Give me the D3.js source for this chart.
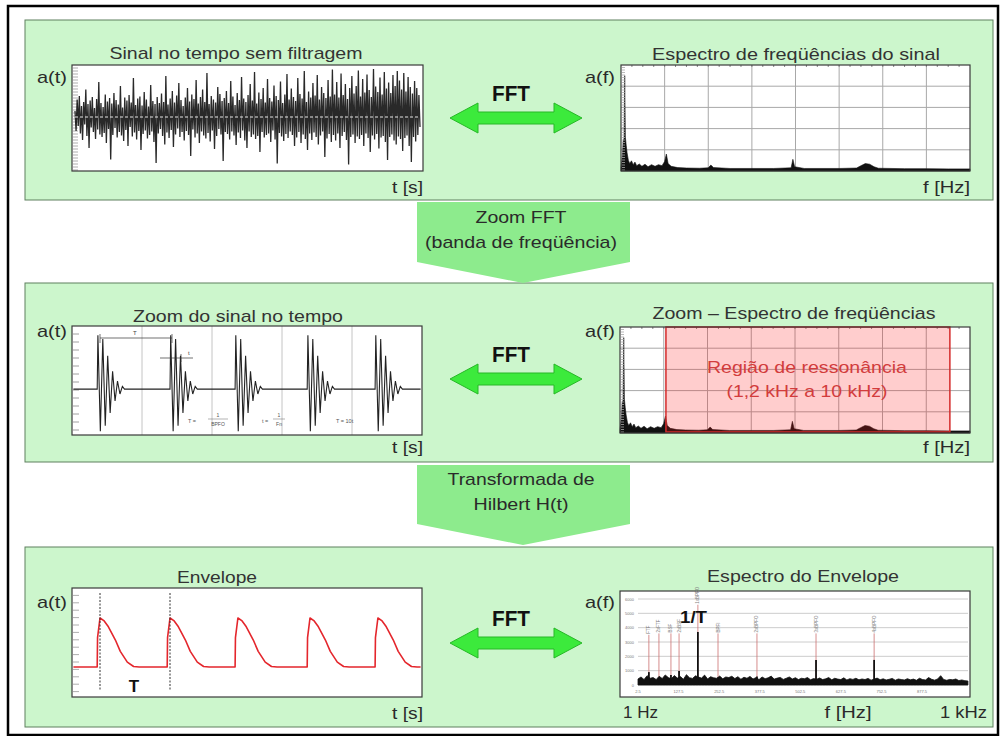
<!DOCTYPE html>
<html>
<head>
<meta charset="utf-8">
<script src="https://cdn.jsdelivr.net/npm/d3@7"></script>
<style>
  body { margin: 0; background: #fff; }
  svg { display: block; }
  text { font-family: "Liberation Sans", Arial, sans-serif; }
</style>
</head>
<body>
<svg id="chart"></svg>
<script>
// setup
const width  = 1003;
const height = 736;

////////////////////////////
// -------- DATA
////////////////////////////
const leftTitles  = ["Sinal no tempo sem filtragem", "Zoom do sinal no tempo", "Envelope"];
const rightTitles = ["Espectro de freqüências do sinal", "Zoom – Espectro de freqüências", "Espectro do Envelope"];
const stepLabels  = [["Zoom FFT", "(banda de freqüência)"], ["Transformada de", "Hilbert H(t)"]];
const bandLabels  = ["Região de ressonância", "(1,2 kHz a 10 kHz)"];

// raw vibration signal (normalised amplitude, one value per sample)
const rawSignal = [
  0.12,-0.28,0.35,-0.18,0.42,-0.33,0.22,-0.46,0.30,-0.15,0.55,-0.38,0.26,-0.62,0.33,-0.21,0.40,-0.30,0.18,-0.44,
  0.36,-0.25,0.70,-0.35,0.28,-0.40,0.20,-0.32,0.45,-0.52,0.31,-0.24,0.38,-0.85,0.27,-0.36,0.48,-0.22,0.34,-0.41,
  0.25,-0.30,0.62,-0.37,0.19,-0.48,0.39,-0.26,0.33,-0.58,0.44,-0.20,0.29,-0.39,0.78,-0.31,0.24,-0.45,0.37,-0.28,
  0.41,-0.66,0.23,-0.34,0.50,-0.27,0.35,-0.43,0.21,-0.36,0.64,-0.29,0.32,-0.50,0.26,-0.92,0.40,-0.33,0.28,-0.24,
  0.47,-0.38,0.30,-0.55,0.82,-0.31,0.25,-0.42,0.37,-0.26,0.52,-0.60,0.29,-0.35,0.43,-0.23,0.68,-0.40,0.34,-0.30,
  0.22,-0.47,0.39,-0.28,0.58,-0.36,0.31,-0.78,0.45,-0.25,0.36,-0.41,0.74,-0.33,0.27,-0.52,0.40,-0.29,0.55,-0.37,
  0.30,-0.43,0.88,-0.32,0.26,-0.49,0.42,-0.27,0.35,-0.64,0.29,-0.38,0.60,-0.24,0.46,-0.35,0.32,-0.88,0.38,-0.30,
  0.52,-0.34,0.28,-0.45,0.72,-0.29,0.41,-0.37,0.24,-0.56,0.48,-0.31,0.34,-0.42,0.80,-0.27,0.37,-0.47,0.30,-0.62,
  0.44,-0.29,0.66,-0.40,0.33,-0.35,0.90,-0.44,0.27,-0.38,0.49,-0.70,0.36,-0.30,0.58,-0.41,0.29,-0.36,0.76,-0.33,
  0.38,-0.50,0.31,-0.27,0.63,-0.45,0.42,-0.93,0.34,-0.32,0.71,-0.39,0.28,-0.48,0.45,-0.34,0.86,-0.42,0.35,-0.29,
  0.57,-0.36,0.40,-0.58,0.32,-0.41,0.78,-0.30,0.46,-0.52,0.37,-0.35,0.92,-0.44,0.30,-0.66,0.51,-0.33,0.39,-0.46,
  0.68,-0.31,0.43,-0.40,0.84,-0.55,0.35,-0.37,0.60,-0.29,0.48,-0.80,0.38,-0.43,0.74,-0.34,0.41,-0.50,0.95,-0.36,
  0.45,-0.47,0.70,-0.33,0.39,-0.62,0.87,-0.38,0.44,-0.30,0.66,-0.46,0.36,-0.95,0.58,-0.40,0.82,-0.35,0.47,-0.52,
  0.62,-0.39,0.93,-0.44,0.41,-0.36,0.76,-0.58,0.49,-0.33,0.85,-0.42,0.54,-0.70,0.40,-0.37,0.96,-0.45,0.61,-0.34,
  0.50,-0.63,0.79,-0.41,0.45,-0.38,0.90,-0.50,0.57,-0.86,0.69,-0.40,0.48,-0.35,0.84,-0.47,0.62,-0.55,0.92,-0.39,
  0.73,-0.44,0.55,-0.68,0.88,-0.42,0.51,-0.37,0.80,-0.58,0.60,-0.90,0.47,-0.40,0.72,-0.49,0.58,-0.36,0.44,-0.20
];

// frequency spectrum: [f in grid columns 0..8, a in grid rows 0..5]
const spectrum = [
  [0.00,0.15],[0.03,0.7],[0.05,1.4],[0.07,1.55],[0.085,4.5],[0.10,1.6],[0.12,1.2],[0.14,0.85],[0.17,0.5],
  [0.20,0.35],[0.24,0.48],[0.28,0.3],[0.32,0.42],[0.36,0.25],[0.42,0.33],[0.48,0.22],[0.55,0.32],[0.62,0.2],
  [0.70,0.3],[0.78,0.22],[0.86,0.3],[0.94,0.25],[1.00,0.45],[1.04,0.8],[1.08,0.35],[1.15,0.22],[1.30,0.16],
  [1.50,0.14],[1.80,0.13],[2.00,0.15],[2.06,0.28],[2.12,0.16],[2.50,0.12],[3.00,0.12],[3.50,0.12],[3.90,0.15],
  [3.94,0.55],[3.98,0.2],[4.20,0.12],[5.00,0.12],[5.40,0.14],[5.50,0.25],[5.60,0.35],[5.70,0.32],[5.80,0.2],
  [5.90,0.13],[6.50,0.11],[7.00,0.11],[7.50,0.1],[8.00,0.1]
];
const resonanceBand = [1.05, 7.54]; // grid columns

// impacts of the defect (time in grid columns 0..5)
const burstStarts = [0.36, 1.40, 2.33, 3.36, 4.33];
const burstShape  = [[0,0],[0.01,1.0],[0.045,-0.78],[0.08,0.93],[0.115,-0.68],[0.15,0.62],[0.185,-0.44],
                     [0.22,0.33],[0.255,-0.22],[0.29,0.15],[0.325,-0.09],[0.36,0.05],[0.39,0]];

// envelope
const envStarts = [0.36, 1.36, 2.33, 3.36, 4.33];
const envShape  = [[0,0],[0.005,0.6],[0.04,1.0],[0.1,0.94],[0.16,0.82],[0.26,0.55],[0.33,0.32],[0.43,0.1],[0.52,0.01],[0.6,0]];

// envelope spectrum (Hz / amplitude)
const envNoise = [
  420,560,380,650,470,520,380,610,450,700, 520,430,660,480,590,400,720,510,460,640,
  550,480,690,420,580,500,470,620,430,560, 520,610,450,580,400,540,470,600,420,520,
  380,560,440,500,620,410,480,530,390,470, 560,420,510,380,470,440,520,360,450,400,
  490,380,430,520,360,470,410,380,500,350, 440,390,470,360,420,380,460,340,410,480,
  370,430,350,400,460,330,420,380,350,440, 360,410,330,470,380,350,520,400,340,420,
  650,380,330,390,360,420,310,350,300,280
];
const envPeaks     = [[36,900],[67,350],[104,700],[129,980],[187,3700],[249,500],[369,600],[551,1750],[730,1750]];
const markerFreqs  = [36, 67, 104, 129, 187, 249, 369, 551, 730];
const markerTops   = [3500, 3600, 3600, 3600, 5600, 3600, 3600, 3600, 3600];
const markerLabels = ["FTF", "2xFTF", "BSF", "2xBSF", "1xBPFO", "BPFI", "2xBPFO", "3xBPFO", "4xBPFO"];
const envXTicks    = [2.5, 127.5, 252.5, 377.5, 502.5, 627.5, 752.5, 877.5];
const envYTicks    = [0, 1000, 2000, 3000, 4000, 5000, 6000];

////////////////////////////
// -------- BASE
////////////////////////////
const svg = d3.select("#chart").attr("width", width).attr("height", height);
svg.append("rect").attr("width", width).attr("height", height).attr("fill", "#fff");

const panelTops    = [20, 283, 547];
const panelBottoms = [200, 462, 727];
const arrowY       = [118, 379, 643];

panelTops.forEach((t, i) => {
  svg.append("rect")
    .attr("x", 25).attr("y", t)
    .attr("width", 968).attr("height", panelBottoms[i] - t)
    .attr("fill", "#ccf6cc").attr("stroke", "#5f805f").attr("stroke-width", 1);
});

svg.append("rect")
  .attr("x", 8).attr("y", 6).attr("width", 990).attr("height", 729)
  .attr("fill", "none").attr("stroke", "#000").attr("stroke-width", 2.5);

function txt(g, s, x, y, o = {}) {
  const t = g.append("text").attr("x", x).attr("y", y).text(s)
    .attr("font-size", o.size || 17)
    .attr("fill", o.fill || "#2a2a2a")
    .attr("text-anchor", o.anchor || "start");
  if (o.bold) t.attr("font-weight", "bold");
  if (o.w) t.attr("textLength", o.w).attr("lengthAdjust", "spacingAndGlyphs");
  return t;
}

function plotBox(b) {
  svg.append("rect")
    .attr("x", b.x0).attr("y", b.y0)
    .attr("width", b.x1 - b.x0).attr("height", b.y1 - b.y0)
    .attr("fill", "#fff");
}
function plotBorder(b) {
  svg.append("rect")
    .attr("x", b.x0).attr("y", b.y0)
    .attr("width", b.x1 - b.x0).attr("height", b.y1 - b.y0)
    .attr("fill", "none").attr("stroke", "#3a3a3a").attr("stroke-width", 1.2);
}
function leftTicks(b, step, len, color) {
  svg.append("g").selectAll("line")
    .data(d3.range(b.y0 + step, b.y1, step))
    .join("line")
      .attr("x1", b.x0 + 1).attr("x2", b.x0 + 1 + len)
      .attr("y1", d => d).attr("y2", d => d)
      .attr("stroke", color).attr("stroke-width", 0.8);
}

////////////////////////////
// -------- CONNECTORS + FFT ARROWS
////////////////////////////
const connTops = [202, 465];
const connTips = [283, 545];
connTops.forEach((t, i) => {
  const tip = connTips[i];
  svg.append("polygon")
    .attr("points", [[417, t], [630, t], [630, tip - 21], [523, tip], [417, tip - 21]].join(" "))
    .attr("fill", "#8deb8d");
  txt(svg, stepLabels[i][0], 521, t + (i ? 20 : 21), { anchor: "middle", w: i ? 147 : 91 });
  txt(svg, stepLabels[i][1], 521, t + (i ? 45 : 46), { anchor: "middle", w: i ? 95 : 192 });
});

arrowY.forEach(cy => {
  const cx = 516;
  const pts = [[cx - 66, cy], [cx - 38, cy - 15], [cx - 38, cy - 6], [cx + 38, cy - 6], [cx + 38, cy - 15],
               [cx + 66, cy], [cx + 38, cy + 15], [cx + 38, cy + 6], [cx - 38, cy + 6], [cx - 38, cy + 15]];
  svg.append("polygon").attr("points", pts.join(" "))
    .attr("fill", "#3cea3c").attr("stroke", "#27b827").attr("stroke-width", 1);
  txt(svg, "FFT", cx - 5, cy - 17, { anchor: "middle", bold: true, size: 22, w: 38, fill: "#111" });
});

////////////////////////////
// -------- TITLES + AXIS LABELS
////////////////////////////
const leftTitleX  = [236, 238, 217], leftTitleY  = [59, 322, 583], leftTitleW  = [253, 210, 80];
const rightTitleX = [796, 794, 803], rightTitleY = [60, 319, 582], rightTitleW = [288, 283, 192];
[0, 1, 2].forEach(i => {
  txt(svg, leftTitles[i],  leftTitleX[i],  leftTitleY[i],  { anchor: "middle", w: leftTitleW[i], fill: "#333" });
  txt(svg, rightTitles[i], rightTitleX[i], rightTitleY[i], { anchor: "middle", w: rightTitleW[i], fill: "#333" });
});
const aLabelY = [83, 337, 608];
aLabelY.forEach(y => {
  txt(svg, "a(t)", 37, y, { w: 30 });
  txt(svg, "a(f)", 585, y, { w: 30 });
});
[193, 453, 719].forEach(y => txt(svg, "t [s]", 423, y, { anchor: "end", w: 31 }));
[193, 453].forEach(y => txt(svg, "f [Hz]", 970, y, { anchor: "end", w: 47 }));
txt(svg, "1 Hz", 623, 718, { w: 35 });
txt(svg, "f [Hz]", 848, 718, { anchor: "middle", w: 47 });
txt(svg, "1 kHz", 987, 718, { anchor: "end", w: 47 });

////////////////////////////
// -------- PANEL 1 LEFT : raw signal
////////////////////////////
const b1L = { x0: 72, x1: 423, y0: 65, y1: 171 };
plotBox(b1L);
leftTicks(b1L, 3, 5, "#9a9a9a");
const rawX = d3.scaleLinear().domain([0, rawSignal.length - 1]).range([75, 420]);
const rawY = d3.scaleLinear().domain([-1, 1]).range([167, 67]);
svg.append("path")
  .attr("d", d3.line().x((d, i) => rawX(i)).y(d => rawY(d))(rawSignal))
  .attr("fill", "none").attr("stroke", "#121212").attr("stroke-width", 1.3).attr("stroke-opacity", 0.9);
svg.append("line")
  .attr("x1", 75).attr("x2", 420).attr("y1", rawY(0)).attr("y2", rawY(0))
  .attr("stroke", "#e6e6e6").attr("stroke-width", 1).attr("stroke-dasharray", "3,2");
plotBorder(b1L);

////////////////////////////
// -------- SPECTRUM (panels 1 and 2 right)
////////////////////////////
function drawSpectrum(b, band) {
  plotBox(b);
  const x = d3.scaleLinear().domain([0, 8]).range([b.x0, b.x1]);
  const y = d3.scaleLinear().domain([0, 5]).range([b.y1, b.y0]);
  const g = svg.append("g");
  g.selectAll(".v").data(d3.range(1, 8)).join("line")
    .attr("x1", d => x(d)).attr("x2", d => x(d)).attr("y1", b.y0).attr("y2", b.y1)
    .attr("stroke", "#a8a8a8").attr("stroke-width", 1);
  g.selectAll(".h").data(d3.range(1, 5)).join("line")
    .attr("x1", b.x0).attr("x2", b.x1).attr("y1", d => y(d)).attr("y2", d => y(d))
    .attr("stroke", "#a8a8a8").attr("stroke-width", 1);
  g.selectAll(".tt").data(d3.range(0.25, 8, 0.25)).join("line")
    .attr("x1", d => x(d)).attr("x2", d => x(d)).attr("y1", b.y0).attr("y2", b.y0 + 2)
    .attr("stroke", "#888");
  leftTicks(b, 2.5, 3, "#aaa");
  g.append("path")
    .attr("d", d3.area().x(d => x(d[0])).y0(y(0)).y1(d => y(d[1]))(spectrum))
    .attr("fill", "#111").attr("stroke", "#111").attr("stroke-width", 0.6);
  if (band) {
    g.append("rect")
      .attr("x", x(band[0])).attr("y", b.y0)
      .attr("width", x(band[1]) - x(band[0])).attr("height", b.y1 - b.y0 - 1)
      .attr("fill", "#ff1a1a").attr("fill-opacity", 0.22)
      .attr("stroke", "#d42a2a").attr("stroke-width", 1.5);
    const cx = (x(band[0]) + x(band[1])) / 2;
    txt(g, bandLabels[0], cx - 1, 373, { anchor: "middle", size: 17, w: 200, fill: "#d23c3c" });
    txt(g, bandLabels[1], cx - 1, 397, { anchor: "middle", size: 17, w: 161, fill: "#d23c3c" });
  }
  plotBorder(b);
}
drawSpectrum({ x0: 621, x1: 970, y0: 65, y1: 171 }, null);
drawSpectrum({ x0: 620, x1: 970, y0: 327, y1: 433 }, resonanceBand);

////////////////////////////
// -------- PANEL 2 LEFT : bursts
////////////////////////////
const b2L = { x0: 72, x1: 422, y0: 326, y1: 435 };
plotBox(b2L);
const tX = d3.scaleLinear().domain([0, 5]).range([72, 422]);
const bY = d3.scaleLinear().domain([-0.85, 1.17]).range([435, 326]);
svg.append("g").selectAll("line").data([1, 2, 3, 4]).join("line")
  .attr("x1", d => tX(d)).attr("x2", d => tX(d)).attr("y1", b2L.y0).attr("y2", b2L.y1)
  .attr("stroke", "#c4c4c4");
leftTicks(b2L, 8, 6, "#888");
let burstPts = [[0.02, 0]];
burstStarts.forEach(s => burstShape.forEach(([dt, v]) => burstPts.push([s + dt, v])));
burstPts.push([4.98, 0]);
svg.append("path")
  .attr("d", d3.line().x(d => tX(d[0])).y(d => bY(d[1]))(burstPts))
  .attr("fill", "none").attr("stroke", "#222").attr("stroke-width", 1.1);
// annotations
const ann = svg.append("g").attr("stroke", "#333").attr("stroke-width", 0.7);
ann.append("line").attr("x1", 100).attr("x2", 172).attr("y1", 338).attr("y2", 338);
ann.append("line").attr("x1", 100).attr("x2", 100).attr("y1", 334).attr("y2", 343);
ann.append("line").attr("x1", 172).attr("x2", 172).attr("y1", 334).attr("y2", 343);
ann.append("line").attr("x1", 160).attr("x2", 193).attr("y1", 358).attr("y2", 358);
ann.append("line").attr("x1", 181).attr("x2", 181).attr("y1", 354).attr("y2", 362);
txt(svg, "T", 133, 335, { size: 6, fill: "#444" });
txt(svg, "t", 188, 355, { size: 6, fill: "#444" });
txt(svg, "T =", 188, 423, { size: 5.5, fill: "#555" });
txt(svg, "1", 218, 417, { size: 5, fill: "#555", anchor: "middle" });
svg.append("line").attr("x1", 208).attr("x2", 228).attr("y1", 419).attr("y2", 419).attr("stroke", "#666").attr("stroke-width", 0.5);
txt(svg, "BPFO", 218, 426, { size: 5, fill: "#555", anchor: "middle" });
txt(svg, "t =", 262, 423, { size: 5.5, fill: "#555" });
txt(svg, "1", 279, 417, { size: 5, fill: "#555", anchor: "middle" });
svg.append("line").attr("x1", 273).attr("x2", 285).attr("y1", 419).attr("y2", 419).attr("stroke", "#666").attr("stroke-width", 0.5);
txt(svg, "Fn", 279, 426, { size: 5, fill: "#555", anchor: "middle" });
txt(svg, "T = 10t", 336, 423, { size: 5.5, fill: "#555" });
plotBorder(b2L);

////////////////////////////
// -------- PANEL 3 LEFT : envelope
////////////////////////////
const b3L = { x0: 72, x1: 422, y0: 588, y1: 697 };
plotBox(b3L);
leftTicks(b3L, 7.4, 6, "#999");
const eY = d3.scaleLinear().domain([0, 1]).range([667, 618]);
let envPts = [[0.02, 0]];
envStarts.forEach(s => envShape.forEach(([dt, v]) => envPts.push([s + dt, v])));
envPts.push([4.98, 0]);
svg.append("path")
  .attr("d", d3.line().x(d => tX(d[0])).y(d => eY(d[1]))(envPts))
  .attr("fill", "none").attr("stroke", "#e4262c").attr("stroke-width", 1.6).attr("stroke-linejoin", "round");
[envStarts[0], envStarts[1]].forEach(s => {
  svg.append("line")
    .attr("x1", tX(s + 0.04)).attr("x2", tX(s + 0.04)).attr("y1", 593).attr("y2", 690)
    .attr("stroke", "#333").attr("stroke-width", 1).attr("stroke-dasharray", "2,1.5");
});
txt(svg, "T", 134, 692, { anchor: "middle", bold: true, size: 17, fill: "#111" });
plotBorder(b3L);

////////////////////////////
// -------- PANEL 3 RIGHT : envelope spectrum
////////////////////////////
const b3R = { x0: 620, x1: 970, y0: 591, y1: 697 };
plotBox(b3R);
const envX = d3.scaleLinear().domain([2.5, 877.5]).range([638, 922]);
const envY = d3.scaleLinear().domain([0, 6000]).range([685, 599]);
const eg = svg.append("g");
eg.selectAll(".grid").data(envYTicks).join("line")
  .attr("x1", 638).attr("x2", 968).attr("y1", d => envY(d)).attr("y2", d => envY(d))
  .attr("stroke", "#c6c6c6").attr("stroke-width", 0.9);
eg.selectAll(".yl").data(envYTicks).join("text")
  .attr("x", 634).attr("y", d => envY(d) + 1.5).attr("text-anchor", "end")
  .attr("font-size", 4).attr("fill", "#777").text(d => d);
eg.selectAll(".xl").data(envXTicks).join("text")
  .attr("x", d => envX(d)).attr("y", 693).attr("text-anchor", "middle")
  .attr("font-size", 4).attr("fill", "#777").text(d => d.toFixed(1));
// markers
eg.selectAll(".mk").data(markerFreqs).join("line")
  .attr("x1", d => envX(d)).attr("x2", d => envX(d))
  .attr("y1", (d, i) => envY(markerTops[i])).attr("y2", envY(0))
  .attr("stroke", "#cc7070").attr("stroke-width", 0.8);
eg.selectAll(".ml").data(markerFreqs).join("text")
  .attr("transform", (d, i) => `translate(${envX(d) + 1.5},${envY(markerTops[i]) - 1}) rotate(-90)`)
  .attr("font-size", 4.5).attr("fill", "#808080").text((d, i) => markerLabels[i]);
// noise floor
const stepHz = (1019 - 2.5) / (envNoise.length - 1);
eg.append("path")
  .attr("d", d3.area().x((d, i) => envX(2.5 + i * stepHz)).y0(envY(0)).y1(d => envY(d))(envNoise))
  .attr("fill", "#111").attr("stroke", "#111").attr("stroke-width", 0.8);
// harmonic peaks
eg.selectAll(".pk").data(envPeaks).join("line")
  .attr("x1", d => envX(d[0])).attr("x2", d => envX(d[0]))
  .attr("y1", envY(0)).attr("y2", d => envY(d[1]))
  .attr("stroke", "#111").attr("stroke-width", 1.8);
txt(svg, "1/T", 680, 623, { bold: true, size: 17, w: 27, fill: "#111" });
plotBorder(b3R);
</script>
</body>
</html>
